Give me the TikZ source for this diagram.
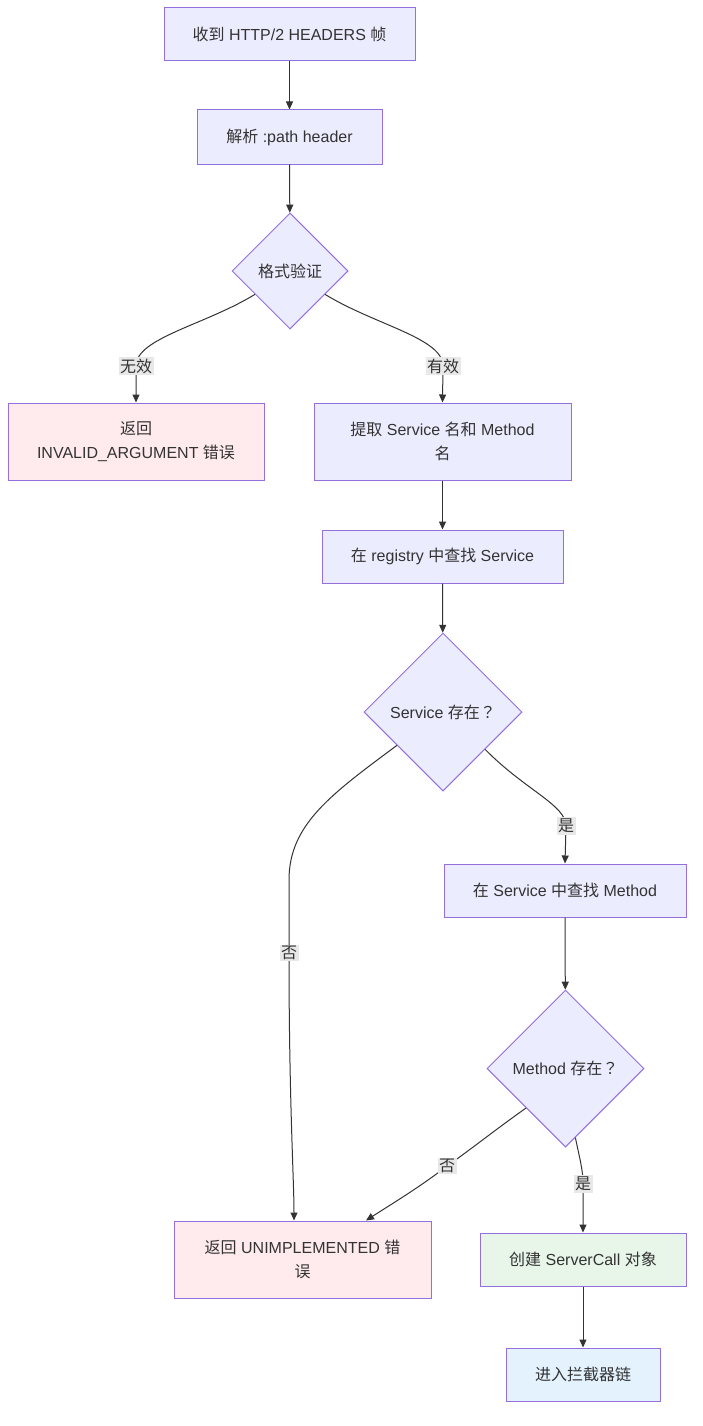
\documentclass[tikz,border=0pt]{standalone}
\usepackage{fontspec}
\setmainfont{Liberation Sans}
\newfontfamily\cjk{Noto Sans CJK SC}
\newfontfamily\cjktc{Noto Sans CJK TC}
\usetikzlibrary{shapes.geometric,arrows.meta,calc}
\definecolor{nodefill}{HTML}{ECECFF}
\definecolor{nodestroke}{HTML}{9370DB}
\definecolor{errfill}{HTML}{FFEBEE}
\definecolor{okfill}{HTML}{E8F5E9}
\definecolor{infill}{HTML}{E3F2FD}
\definecolor{txt}{HTML}{333333}
\definecolor{lblbg}{HTML}{E8E8E8}
\begin{document}
\begin{tikzpicture}[x=1pt,y=-1pt,
  every node/.style={font=\fontsize{16}{24}\selectfont, text=txt},
  box/.style={draw=nodestroke, fill=nodefill, line width=1pt, rectangle, inner sep=0pt, align=center},
  dia/.style={draw=nodestroke, fill=nodefill, line width=1pt, diamond, inner sep=0pt, aspect=1},
  arr/.style={draw=txt, line width=1pt, -{Triangle[length=8pt,width=7pt]}},
  lbl/.style={fill=lblbg, inner sep=1.5pt}]
\useasboundingbox[fill=white] (0,0) rectangle (702,1426);

\node[box, minimum width=251pt, minimum height=53pt] (A) at (289.5,34.5) {{\cjk 收到} HTTP/2 HEADERS {\cjk 帧}};
\node[box, minimum width=185pt, minimum height=54pt] (B) at (289.5,137) {{\cjk 解析} :path header};
\node[dia, minimum width=116pt, minimum height=116pt] (C) at (290,271) {\cjk 格式验证};
\node[box, fill=errfill, minimum width=256pt, minimum height=77pt] (D) at (136,441.5) {{\cjk 返回}\\INVALID\_ARGUMENT {\cjk 错误}};
\node[box, minimum width=257pt, minimum height=77pt] (E) at (442.5,441.5) {{\cjk 提取} Service {\cjk 名和} Method\\{\cjk 名}};
\node[box, minimum width=241pt, minimum height=53pt] (F) at (442.5,556.5) {{\cjk 在} registry {\cjk 中查找} Service};
\node[dia, minimum width=158pt, minimum height=158pt] (G) at (443,712) {Service {\cjk 存在}{\cjktc ？}};
\node[box, minimum width=242pt, minimum height=53pt] (H) at (565,890.5) {{\cjk 在} Service {\cjk 中查找} Method};
\node[dia, minimum width=157pt, minimum height=157pt] (I) at (565.5,1068.5) {Method {\cjk 存在}{\cjktc ？}};
\node[box, fill=errfill, minimum width=257pt, minimum height=77pt] (J) at (302.5,1259.5) {{\cjk 返回} UNIMPLEMENTED {\cjk 错}\\{\cjk 误}};
\node[box, fill=okfill, minimum width=206pt, minimum height=53pt] (K) at (583,1259.5) {{\cjk 创建} ServerCall {\cjk 对象}};
\node[box, fill=infill, minimum width=154pt, minimum height=53pt] (L) at (583,1374.5) {\cjk 进入拦截器链};

\coordinate (p1) at (136,366);
\coordinate (p2) at (443,366);
\coordinate (p3) at (289,953);
\coordinate (p4) at (566,826);
\coordinate (p5) at (447,1166);
\coordinate (p6) at (583,1184);

\draw[arr] (A) -- (B);
\draw[arr] (B) -- (C);
\draw[arr] ($(C.west)!0.4!(C.south)$) .. controls (205,325) and (136,338) .. (p1) -- (D.north);
\draw[arr] ($(C.east)!0.4!(C.south)$) .. controls (375,325) and (443,338) .. (p2) -- (D.north -| E.north);
\draw[arr] (E) -- (F);
\draw[arr] (F) -- (G);
\draw[arr] ($(G.west)!0.42!(G.south)$) .. controls (330,795) and (289,825) .. (289,880) -- (p3) .. controls (289,1100) and (294,1180) .. ([xshift=-8.5pt]J.north);
\draw[arr] ($(G.east)!0.47!(G.south)$) .. controls (525,790) and (566,805) .. (p4) -- (H.north);
\draw[arr] (H) -- (I);
\draw[arr] (I.south west) .. controls (495,1130) and (470,1150) .. (p5) .. controls (420,1187) and (390,1205) .. ([xshift=63.5pt]J.north);
\draw[arr] ($(I.south)!0.25!(I.south east)$) .. controls (580,1160) and (583,1170) .. (p6) -- (K.north);
\draw[arr] (K) -- (L);

\node[lbl] at (p1) {\cjk 无效};
\node[lbl] at (p2) {\cjk 有效};
\node[lbl] at (p3) {\cjk 否};
\node[lbl] at (p4) {\cjk 是};
\node[lbl] at (p5) {\cjk 否};
\node[lbl] at (p6) {\cjk 是};
\end{tikzpicture}
\end{document}
